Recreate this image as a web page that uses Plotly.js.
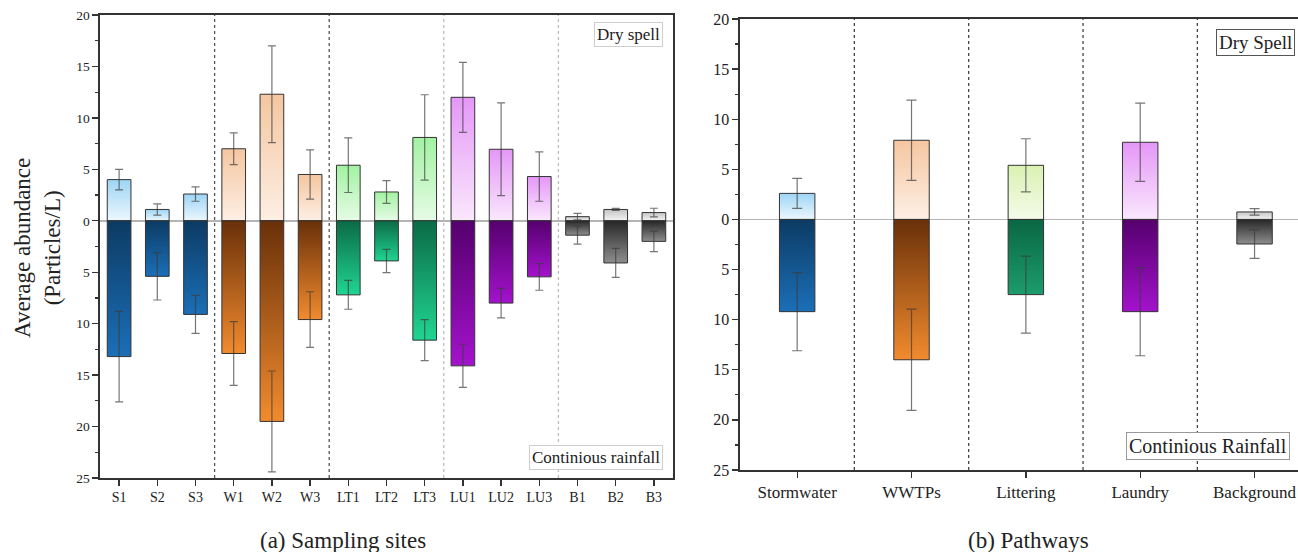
<!DOCTYPE html>
<html>
<head>
<meta charset="utf-8">
<script src="https://cdn.plot.ly/plotly-3.0.1.min.js"></script>
<style>
html,body{margin:0;padding:0;background:#fff;}
#chart{width:1298px;height:552px;}
</style>
</head>
<body>
<div id="chart"></div>
<script>
// ---------- DATA ----------
var siteLabels = ['S1','S2','S3','W1','W2','W3','LT1','LT2','LT3','LU1','LU2','LU3','B1','B2','B3'];
var siteGroup  = ['S','S','S','W','W','W','LT','LT','LT','LU','LU','LU','B','B','B'];
var dryMean  = [4.0, 1.1, 2.6, 7.0, 12.3, 4.5, 5.4, 2.8, 8.1, 12.0, 6.95, 4.3, 0.4, 1.1, 0.8];
var drySD    = [1.0, 0.55, 0.7, 1.55, 4.7, 2.4, 2.65, 1.1, 4.15, 3.4, 4.5, 2.4, 0.32, 0.1, 0.42];
var rainMean = [13.2, 5.4, 9.1, 12.9, 19.5, 9.6, 7.2, 3.9, 11.6, 14.1, 8.0, 5.45, 1.4, 4.1, 2.0];
var rainSD   = [4.4, 2.3, 1.85, 3.1, 4.9, 2.7, 1.4, 1.13, 2.0, 2.1, 1.43, 1.3, 0.86, 1.41, 1.0];

var pathways = ['Stormwater','WWTPs','Littering','Laundry','Background'];
var pathGroup = ['S','W','Lit','LU','B'];
var pDryMean  = [2.6, 7.9, 5.4, 7.7, 0.75];
var pDrySD    = [1.5, 4.0, 2.65, 3.9, 0.32];
var pRainMean = [9.2, 14.0, 7.5, 9.2, 2.45];
var pRainSD   = [3.9, 5.05, 3.85, 4.4, 1.43];

var yTickVals = [-25,-20,-15,-10,-5,0,5,10,15,20];
var yTickText = ['25','20','15','10','5','0','5','10','15','20'];

// gradient colours [top, bottom] of each bar
var grads = {
  S:   {dry:['#9dd5f5','#ecf7fd'], rain:['#0c3b63','#1b6fb8']},
  W:   {dry:['#f5c6a0','#fdefe4'], rain:['#693009','#f28b2e']},
  LT:  {dry:['#a2f2a2','#e6fbe6'], rain:['#0b6a47','#20d592']},
  LU:  {dry:['#e597f7','#fae8fd'], rain:['#55006d','#a412cd']},
  B:   {dry:['#c4c4c4','#f4f4f4'], rain:['#262626','#8e8e8e']},
  Lit: {dry:['#d9f2b2','#f5fbea'], rain:['#0a6744','#1c9c6d']}
};

var FONT = 'Liberation Serif';
var W = 1298, H = 552;
function px(x){ return x / W; }
function py(y){ return 1 - y / H; }

var traces = [];
function pick(arr, idx){ return idx.map(function(i){ return arr[i]; }); }

function addGroupTraces(labels, groups, dM, dS, rM, rS, xa, ya, barW, capW){
  var seen = [];
  groups.forEach(function(g){ if (seen.indexOf(g) < 0) seen.push(g); });
  seen.forEach(function(g){
    var idx = [];
    groups.forEach(function(gg, i){ if (gg === g) idx.push(i); });
    var xs = pick(labels, idx);
    traces.push({
      type:'bar', x: xs, y: pick(dM, idx), xaxis: xa, yaxis: ya,
      width: barW, meta: 'g_' + g + '_dry',
      marker:{color: grads[g].dry[0], line:{color:'#333', width:1}},
      error_y:{type:'data', array: pick(dS, idx), visible:true, color:'rgba(60,60,60,0.7)', thickness:1.2, width:capW},
      showlegend:false, hoverinfo:'x+y'
    });
    traces.push({
      type:'bar', x: xs, y: pick(rM, idx).map(function(v){ return -v; }), xaxis: xa, yaxis: ya,
      width: barW, meta: 'g_' + g + '_rain',
      marker:{color: grads[g].rain[1], line:{color:'#333', width:1}},
      error_y:{type:'data', array: pick(rS, idx), visible:true, color:'rgba(60,60,60,0.7)', thickness:1.2, width:capW},
      showlegend:false, hoverinfo:'x+y'
    });
  });
}
addGroupTraces(siteLabels, siteGroup, dryMean, drySD, rainMean, rainSD, 'x', 'y', 0.62, 4);
addGroupTraces(pathways, pathGroup, pDryMean, pDrySD, pRainMean, pRainSD, 'x2', 'y2', 0.31, 5);

function yAxisCfg(domain, size, anchor){
  return {
    domain: domain, anchor: anchor, range:[-25, 20], tickmode:'array',
    tickvals: yTickVals, ticktext: yTickText,
    ticks:'outside', ticklen:6, tickwidth:1.3, tickcolor:'#333',
    minor:{ticks:'outside', tickmode:'linear', tick0:0, dtick:2.5, ticklen:3.5, tickcolor:'#333', tickwidth:1.2, showgrid:false},
    showline:true, linecolor:'#333', linewidth:1.6, mirror:true,
    showgrid:false, zeroline:true, zerolinecolor:'#b4b4b4', zerolinewidth:1.6,
    tickfont:{family:FONT, size:size, color:'#222'}, fixedrange:true
  };
}
function xAxisCfg(domain, labels, range, size, anchor){
  return {
    domain: domain, anchor: anchor, type:'category', categoryorder:'array', categoryarray: labels,
    range: range, ticks:'outside', ticklen:6, tickwidth:1.3, tickcolor:'#333',
    showline:true, linecolor:'#333', linewidth:1.6, mirror:true, showgrid:false,
    tickfont:{family:FONT, size:size, color:'#222'}, fixedrange:true
  };
}

var shapes = [];
[[2.5,'#555'],[5.5,'#555'],[8.5,'#bdbdbd'],[11.5,'#bdbdbd']].forEach(function(s){
  shapes.push({type:'line', xref:'x', yref:'y domain', x0:s[0], x1:s[0], y0:0, y1:1,
    line:{color:s[1], width:1.3, dash:'dot'}});
});
[0.5,1.5,2.5,3.5].forEach(function(v){
  shapes.push({type:'line', xref:'x2', yref:'y2 domain', x0:v, x1:v, y0:0, y1:1,
    line:{color:'#444', width:1.3, dash:'dot'}});
});

var annotations = [
  {text:'Dry spell', xref:'paper', yref:'paper', x:px(628.5), y:py(34), xanchor:'center', yanchor:'middle',
   showarrow:false, font:{family:FONT, size:17, color:'#222'}, bgcolor:'#fff', bordercolor:'#cfcfcf', borderwidth:1, borderpad:2},
  {text:'Continious rainfall', xref:'paper', yref:'paper', x:px(596), y:py(457.5), xanchor:'center', yanchor:'middle',
   showarrow:false, font:{family:FONT, size:17, color:'#222'}, bgcolor:'#fff', bordercolor:'#cfcfcf', borderwidth:1, borderpad:2},
  {text:'Dry Spell', xref:'paper', yref:'paper', x:px(1255), y:py(42), xanchor:'center', yanchor:'middle',
   showarrow:false, font:{family:FONT, size:19, color:'#222'}, bgcolor:'#fff', bordercolor:'#555', borderwidth:1, borderpad:2},
  {text:'Continious Rainfall', xref:'paper', yref:'paper', x:px(1207.5), y:py(446), xanchor:'center', yanchor:'middle',
   showarrow:false, font:{family:FONT, size:20, color:'#222'}, bgcolor:'#fff', bordercolor:'#999', borderwidth:1, borderpad:2},
  {text:'(a) Sampling sites', xref:'paper', yref:'paper', x:px(343), y:py(540), xanchor:'center', yanchor:'middle',
   showarrow:false, font:{family:FONT, size:23, color:'#222'}},
  {text:'(b) Pathways', xref:'paper', yref:'paper', x:px(1028), y:py(540), xanchor:'center', yanchor:'middle',
   showarrow:false, font:{family:FONT, size:23, color:'#222'}},
  {text:'Average abundance<br>(Particles/L)', xref:'paper', yref:'paper', x:px(37), y:py(248), xanchor:'center', yanchor:'middle',
   textangle:-90, showarrow:false, font:{family:FONT, size:23, color:'#222'}}
];

var layout = {
  width: W, height: H, margin:{l:0, r:0, t:0, b:0},
  paper_bgcolor:'#fff', plot_bgcolor:'#fff',
  barmode:'overlay', showlegend:false,
  xaxis: xAxisCfg([px(100), px(673)], siteLabels, [-0.5, 14.5], 14, 'y'),
  yaxis: yAxisCfg([py(478), py(15)], 13.5, 'x'),
  xaxis2: xAxisCfg([px(740), 1], pathways, [-0.5, 4.38], 17, 'y2'),
  yaxis2: yAxisCfg([py(470), py(19)], 16, 'x2'),
  shapes: shapes, annotations: annotations,
  font:{family:FONT, color:'#222'}
};

function applyGradients(gd){
  var svgNS = 'http://www.w3.org/2000/svg';
  var defs = gd.querySelector('svg.main-svg defs');
  if (!defs) return;
  Object.keys(grads).forEach(function(g){
    ['dry','rain'].forEach(function(kind){
      var id = 'g_' + g + '_' + kind;
      var lg = document.createElementNS(svgNS, 'linearGradient');
      lg.setAttribute('id', id);
      lg.setAttribute('x1','0'); lg.setAttribute('y1','0');
      lg.setAttribute('x2','0'); lg.setAttribute('y2','1');
      var c = grads[g][kind];
      var s1 = document.createElementNS(svgNS,'stop');
      s1.setAttribute('offset','0'); s1.setAttribute('stop-color', c[0]);
      var s2 = document.createElementNS(svgNS,'stop');
      s2.setAttribute('offset','1'); s2.setAttribute('stop-color', c[1]);
      lg.appendChild(s1); lg.appendChild(s2);
      defs.appendChild(lg);
    });
  });
  gd.querySelectorAll('.barlayer .trace').forEach(function(tr){
    var cd = tr.__data__;
    var t = cd && cd[0] && cd[0].trace;
    if (!t || !t.meta) return;
    tr.querySelectorAll('.point path').forEach(function(p){
      p.style.fill = 'url(#' + t.meta + ')';
    });
  });
}

Plotly.newPlot('chart', traces, layout, {displayModeBar:false, staticPlot:true}).then(applyGradients);
</script>
</body>
</html>
